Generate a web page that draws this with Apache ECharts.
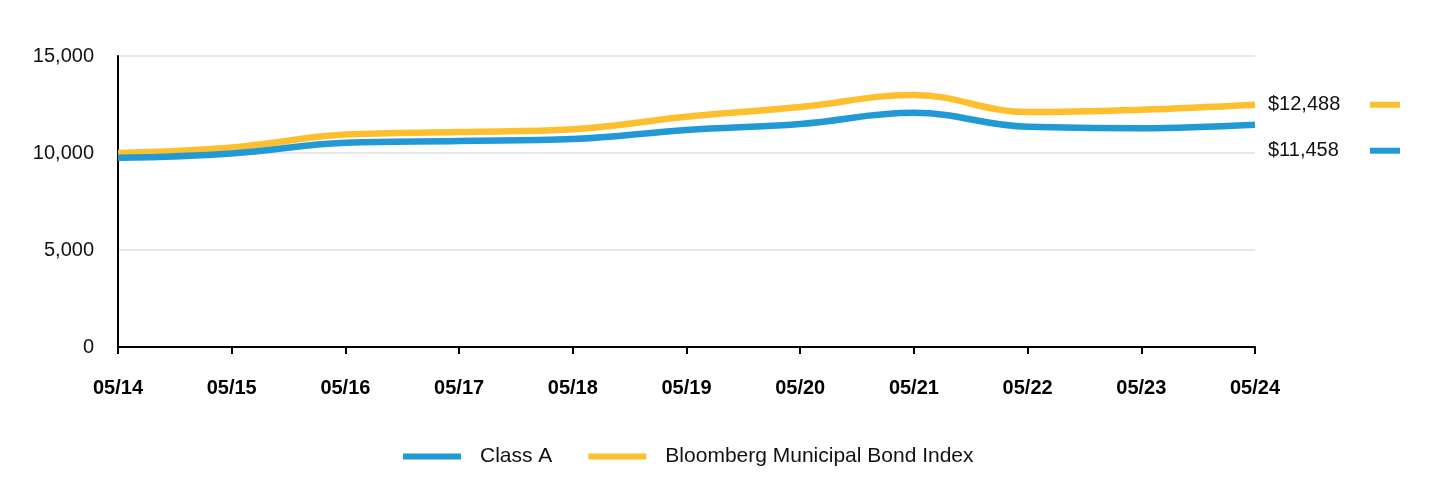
<!DOCTYPE html>
<html>
<head>
<meta charset="utf-8">
<script src="https://cdn.jsdelivr.net/npm/echarts@6/dist/echarts.min.js"></script>
<style>
html,body{margin:0;padding:0;background:#fff;}
#chart{width:1440px;height:492px;}
</style>
</head>
<body>
<div id="chart"></div>
<script>
const categories = ['05/14','05/15','05/16','05/17','05/18','05/19','05/20','05/21','05/22','05/23','05/24'];
const classA = [9750, 9980, 10530, 10620, 10720, 11190, 11500, 12070, 11350, 11280, 11458];
const bloomberg = [10000, 10290, 10950, 11080, 11220, 11870, 12370, 12990, 12110, 12230, 12488];
const seriesNames = ['Class A', 'Bloomberg Municipal Bond Index'];
const yTicks = [0, 5000, 10000, 15000];

const BLUE = '#2199d5';
const YELLOW = '#fdbf2d';
const FONT = 'Liberation Sans, Arial, sans-serif';

function money(v){ return '$' + v.toLocaleString('en-US'); }

function endLabel(color, offsetY){
  return {
    show: true,
    distance: 13,
    offset: [0, offsetY],
    formatter: function(p){ return '{v|' + money(p.value) + '}{s|}'; },
    rich: {
      v: { width: 102, fontSize: 20, fontFamily: FONT, color: '#111', align: 'left' },
      s: { width: 30, height: 6, backgroundColor: color }
    }
  };
}

const chart = echarts.init(document.getElementById('chart'));
chart.setOption({
  animation: false,
  backgroundColor: '#fff',
  grid: { left: 118, right: 185, top: 56, bottom: 145 },
  legend: {
    left: 398,
    top: 441,
    itemWidth: 58,
    itemHeight: 6,
    itemGap: 36,
    icon: 'rect',
    textStyle: { fontSize: 21, fontFamily: FONT, color: '#111', padding: [0, 0, 0, 14] },
    data: seriesNames
  },
  xAxis: {
    type: 'category',
    data: categories,
    boundaryGap: false,
    axisLine: { lineStyle: { color: '#000', width: 2 } },
    axisTick: { show: true, length: 7, lineStyle: { color: '#000', width: 2 } },
    axisLabel: { fontSize: 20, fontWeight: 'bold', fontFamily: FONT, color: '#000', margin: 31 },
    splitLine: { show: false }
  },
  yAxis: {
    type: 'value',
    min: yTicks[0],
    max: yTicks[yTicks.length - 1],
    interval: 5000,
    axisLine: { show: true, lineStyle: { color: '#000', width: 2 } },
    axisTick: { show: false },
    axisLabel: {
      fontSize: 20, fontFamily: FONT, color: '#111', margin: 24,
      formatter: function(v){ return v.toLocaleString('en-US'); }
    },
    splitLine: { lineStyle: { color: '#e0e0e0', width: 1.5 } }
  },
  series: [
    {
      name: seriesNames[0], type: 'line', data: classA, smooth: 0.4,
      showSymbol: false, symbol: 'none', z: 3,
      itemStyle: { color: BLUE },
      lineStyle: { color: BLUE, width: 6.5 },
      endLabel: endLabel(BLUE, 26)
    },
    {
      name: seriesNames[1], type: 'line', data: bloomberg, smooth: 0.4,
      showSymbol: false, symbol: 'none', z: 2,
      itemStyle: { color: YELLOW },
      lineStyle: { color: YELLOW, width: 6.5 },
      endLabel: endLabel(YELLOW, 0)
    }
  ]
});
</script>
</body>
</html>
